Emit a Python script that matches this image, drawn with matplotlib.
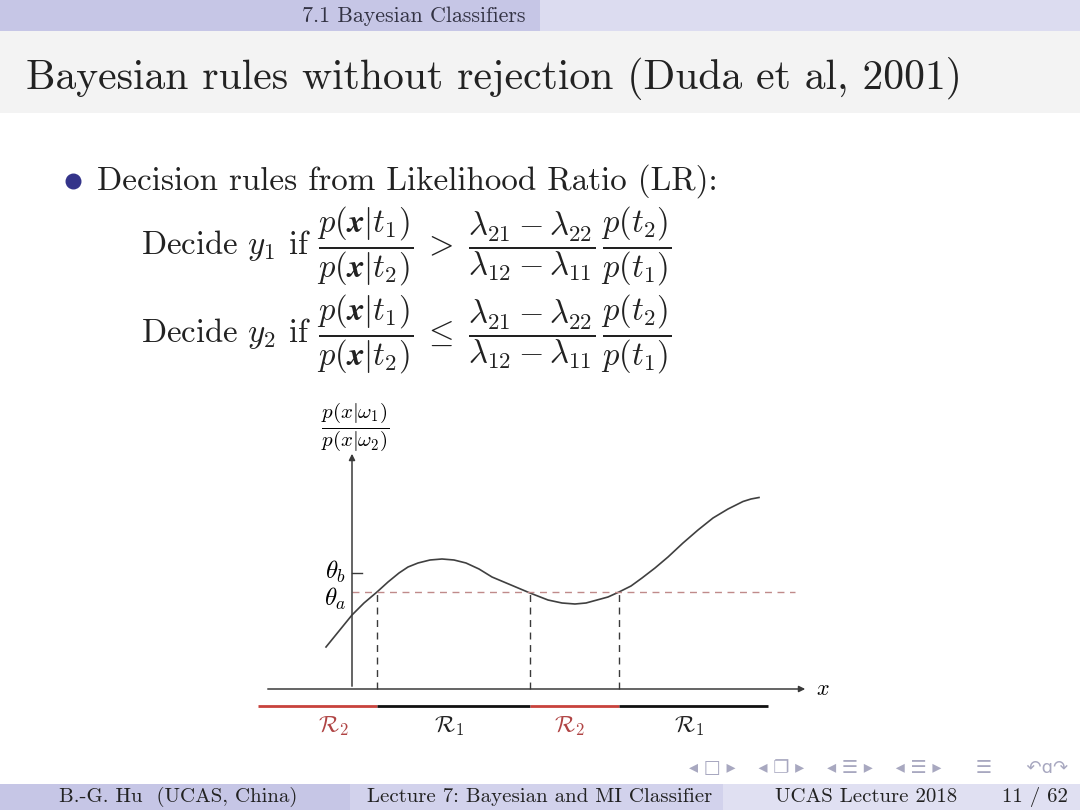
import matplotlib.pyplot as plt
from matplotlib.patches import Rectangle

plt.rcParams['mathtext.fontset'] = 'cm'
plt.rcParams['font.family'] = ['cmr10', 'DejaVu Sans']
plt.rcParams['axes.formatter.use_mathtext'] = True

# likelihood ratio curve (x position, ratio value)
curve_x = [-2.6, -1.3, 0.0, 1.2, 2.5, 3.6, 4.7, 5.6, 6.6, 7.8, 9.0, 10.2, 11.4,
           12.7, 14.0, 15.9, 17.8, 19.6, 21.0, 22.3, 23.4, 24.5, 25.6, 26.7,
           27.9, 29.0, 30.3, 31.6, 33.1, 34.6, 36.1, 37.6, 38.4, 39.1, 39.9, 40.7]
curve_y = [4.2, 5.8, 7.4, 8.6, 9.7, 10.7, 11.6, 12.2, 12.6, 12.9, 13.0, 12.9, 12.6,
           12.0, 11.2, 10.4, 9.6, 8.9, 8.6, 8.5, 8.6, 8.9, 9.2, 9.7,
           10.3, 11.1, 12.1, 13.2, 14.6, 15.9, 17.1, 18.0, 18.4, 18.75, 19.0, 19.15]

theta_a = 9.7
theta_b = 11.6
crossings = [2.5, 17.8, 26.7]

region_edges = [-9.4, 2.5, 17.8, 26.7, 41.6]
region_names = [r'$\mathcal{R}_2$', r'$\mathcal{R}_1$', r'$\mathcal{R}_2$', r'$\mathcal{R}_1$']
region_colors = ['#c8423c', '#111111', '#c8423c', '#111111']

fig = plt.figure(figsize=(10.8, 8.1), dpi=100)

# slide background in pixel coordinates
bg = fig.add_axes([0, 0, 1, 1])
bg.set_xlim(0, 1080)
bg.set_ylim(810, 0)
bg.axis('off')
bg.add_patch(Rectangle((0, 0), 540, 31, color='#c6c6e6', lw=0))
bg.add_patch(Rectangle((540, 0), 540, 31, color='#dcdcf0', lw=0))
bg.add_patch(Rectangle((0, 31), 1080, 82, color='#f3f3f3', lw=0))
bg.add_patch(Rectangle((0, 784), 350, 26, color='#c6c6e6', lw=0))
bg.add_patch(Rectangle((350, 784), 373, 26, color='#d2d2ec', lw=0))
bg.add_patch(Rectangle((723, 784), 357, 26, color='#e0e0f2', lw=0))

bg.text(525, 16, '7.1 Bayesian Classifiers', ha='right', va='center', fontsize=15.8, color='#333344')
bg.text(26, 78, 'Bayesian rules without rejection (Duda et al, 2001)', ha='left', va='center',
        fontsize=30, color='#222222')

bg.scatter([73], [181], s=110, color='#34348a', zorder=3)
bg.text(97, 181, 'Decision rules from Likelihood Ratio (LR):', ha='left', va='center',
        fontsize=23.8, color='#222222')

frac_lr = r'\dfrac{p(\mathbfit{x}|t_1)}{p(\mathbfit{x}|t_2)}'
frac_th = r'\dfrac{\lambda_{21}-\lambda_{22}}{\lambda_{12}-\lambda_{11}}\,\dfrac{p(t_2)}{p(t_1)}'
bg.text(141, 246, r'Decide $y_1$ if $' + frac_lr + r'\;>\;' + frac_th + '$',
        ha='left', va='center', fontsize=23.6, color='#222222')
bg.text(141, 334, r'Decide $y_2$ if $' + frac_lr + r'\;\leq\;' + frac_th + '$',
        ha='left', va='center', fontsize=23.6, color='#222222')

# footer
bg.text(178, 797, 'B.-G. Hu  (UCAS, China)', ha='center', va='center', fontsize=15, color='#222222')
bg.text(540, 797, 'Lecture 7: Bayesian and MI Classifier', ha='center', va='center', fontsize=15,
        color='#222222')
bg.text(866, 797, 'UCAS Lecture 2018', ha='center', va='center', fontsize=15, color='#222222')
bg.text(1035, 797, '11 / 62', ha='center', va='center', fontsize=15, color='#222222')
bg.text(1068, 768, '◂ □ ▸    ◂ ❐ ▸    ◂ ☰ ▸    ◂ ☰ ▸      ☰      ↶ɑ↷', ha='right', va='center',
        fontsize=13, color='#a8a8c0', family='DejaVu Sans')

# diagram: 10 px per unit, origin at pixel (352, 689)
ax = fig.add_axes([232 / 1080, (810 - 749) / 810, 620 / 1080, 360 / 810])
ax.set_xlim(-12, 50)
ax.set_ylim(-6, 30)
ax.axis('off')

ax.plot(curve_x, curve_y, color='#404040', lw=1.2)

ax.annotate('', xy=(45.6, 0), xytext=(-8.7, 0),
            arrowprops=dict(arrowstyle='-|>', color='#3a3a3a', lw=1.1, mutation_scale=9))
ax.annotate('', xy=(0, 23.8), xytext=(0, 0),
            arrowprops=dict(arrowstyle='-|>', color='#3a3a3a', lw=1.1, mutation_scale=9))
ax.text(46.4, 0, r'$x$', ha='left', va='center', fontsize=16)
ax.text(0.3, 26.2, r'$\dfrac{p(x|\omega_1)}{p(x|\omega_2)}$', ha='center', va='center', fontsize=15)

ax.plot([0, 44.3], [theta_a, theta_a], color='#c08a8a', lw=1.0, ls=(0, (5, 4)))
ax.plot([0, 1.0], [theta_b, theta_b], color='#3a3a3a', lw=1.0)
ax.text(-0.6, theta_b + 0.1, r'$\theta_b$', ha='right', va='center', fontsize=18)
ax.text(-0.6, theta_a - 0.7, r'$\theta_a$', ha='right', va='center', fontsize=18)

for cx in crossings:
    ax.plot([cx, cx], [0, theta_a], color='#3a3a3a', lw=1.0, ls=(0, (5, 4)))

for i in range(len(region_names)):
    ax.plot([region_edges[i], region_edges[i + 1]], [-1.7, -1.7], color=region_colors[i], lw=2.0,
            solid_capstyle='butt')
    mid = (region_edges[i] + region_edges[i + 1]) / 2
    ax.text(mid - 0.5 if i else -1.9, -3.7, region_names[i], ha='center', va='center',
            fontsize=17, color='#b04444' if region_colors[i] != '#111111' else '#222222')

plt.savefig('out.png', dpi=100)
